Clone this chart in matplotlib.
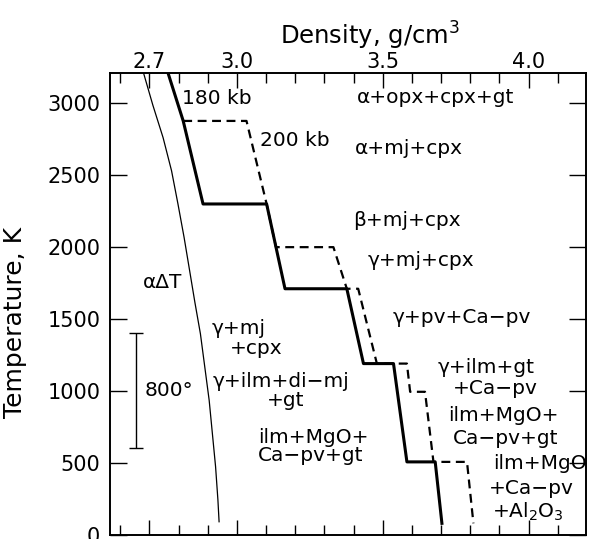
import numpy as np
import matplotlib
matplotlib.use("Agg")
import matplotlib.pyplot as plt
from matplotlib.ticker import MultipleLocator, FixedLocator

plt.rcParams['font.family'] = ['DejaVu Sans']

# thermal expansion curve (alpha dT)
thermal_density = [2.680, 2.712, 2.747, 2.776, 2.798, 2.819, 2.838, 2.856,
                   2.875, 2.890, 2.905, 2.916, 2.927, 2.935, 2.939]
thermal_temp = [3210, 2986, 2761, 2531, 2300, 2068, 1837, 1617,
                1398, 1167, 936, 705, 474, 243, 92]

# 180 kb profile (solid)
kb180_density = [2.764, 2.816, 2.884, 3.102, 3.165, 3.377, 3.434, 3.537, 3.583, 3.680, 3.703]
kb180_temp = [3210, 2877, 2300, 2300, 1711, 1711, 1191, 1191, 508, 508, 81]

# 200 kb profile (dashed)
kb200_density = [2.816, 3.033, 3.102, 3.134, 3.331, 3.377, 3.416, 3.480, 3.583,
                 3.594, 3.645, 3.674, 3.789, 3.811]
kb200_temp = [2877, 2877, 2300, 2000, 2000, 1711, 1711, 1191, 1191,
              995, 995, 508, 508, 81]

# 800 degree scale bar
bar_density = 2.655
bar_center = 1005
bar_half = 400

# phase labels: text, density, temperature
label_text = ["180 kb", "200 kb", "α+opx+cpx+gt", "α+mj+cpx", "β+mj+cpx",
              "γ+mj+cpx", "γ+pv+Ca−pv", "γ+ilm+gt", "+Ca−pv", "ilm+MgO+",
              "Ca−pv+gt", "ilm+MgO", "+Ca−pv", "+Al$_2$O$_3$", "γ+mj", "+cpx",
              "γ+ilm+di−mj", "+gt", "ilm+MgO+", "Ca−pv+gt", "800°", "αΔT"]
label_x = [2.811, 3.079, 3.412, 3.405, 3.399, 3.447, 3.533, 3.687, 3.739, 3.725,
           3.742, 3.880, 3.863, 3.876, 2.914, 2.976, 2.918, 3.103, 3.072, 3.072,
           2.684, 2.677]
label_y = [3033, 2739, 3037, 2683, 2184, 1907, 1511, 1165, 1019, 832,
           673, 499, 326, 159, 1435, 1297, 1068, 935, 680, 555, 1005, 1754]

fig = plt.figure(figsize=(5.92, 5.39), dpi=100)
ax = fig.add_axes([110 / 592, 4 / 539, 476 / 592, 462 / 539])

ax.plot(thermal_density, thermal_temp, color='black', lw=0.9)
ax.plot(kb200_density, kb200_temp, color='black', lw=1.6, linestyle=(0, (4, 2.5)))
ax.plot(kb180_density, kb180_temp, color='black', lw=2.2)
ax.errorbar([bar_density], [bar_center], yerr=[bar_half], color='black',
            lw=1.0, capsize=5, capthick=1.0)

for t, x, y in zip(label_text, label_x, label_y):
    ax.text(x, y, t, ha='left', va='center', fontsize=14.5)

ax.set_xlim(2.565, 4.197)
ax.set_ylim(0, 3210)

ax.xaxis.set_major_locator(FixedLocator([2.7, 3.0, 3.5, 4.0]))
ax.xaxis.set_minor_locator(FixedLocator(np.arange(2.6, 4.15, 0.1)))
ax.xaxis.set_major_formatter(plt.FormatStrFormatter('%.1f'))
ax.xaxis.tick_top()
ax.xaxis.set_label_position('top')
ax.yaxis.set_major_locator(MultipleLocator(500))

ax.tick_params(axis='x', which='both', direction='in', top=True, bottom=True,
               labeltop=True, labelbottom=False, labelsize=15, pad=0.5)
ax.tick_params(axis='x', which='major', length=11, width=1.0)
ax.tick_params(axis='x', which='minor', length=7, width=1.0)
ax.tick_params(axis='y', which='major', direction='in', left=True, right=True,
               labelsize=15, length=12, width=1.0, pad=7)

ax.set_xlabel('Density, g/cm$^3$', fontsize=17.5)
ax.xaxis.set_label_coords(0.546, 1.062)
ax.set_ylabel('Temperature, K', fontsize=18)
ax.yaxis.set_label_coords(-0.174, 0.461)

for s in ax.spines.values():
    s.set_linewidth(1.4)

fig.savefig('out.png', dpi=100)
